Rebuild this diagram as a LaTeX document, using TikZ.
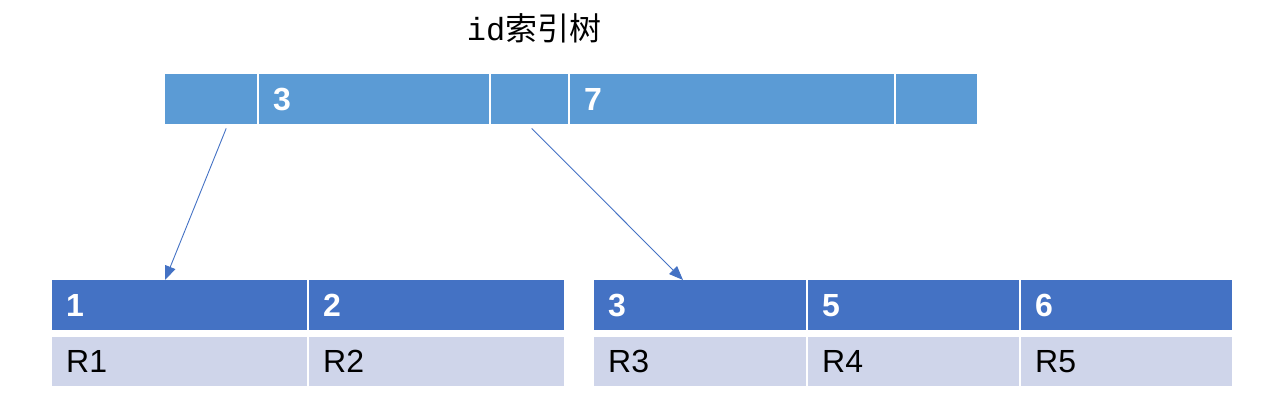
\documentclass[tikz,border=0pt]{standalone}
\usepackage{fontspec}
\setsansfont{Liberation Sans}
\newfontfamily\cjk{Noto Sans CJK SC}
\newfontfamily\idmono{Liberation Mono}
\usepackage{tikz}
\usetikzlibrary{arrows.meta}

\definecolor{barblue}{HTML}{5B9BD5}
\definecolor{headblue}{HTML}{4472C4}
\definecolor{rowgrey}{HTML}{CFD5EA}

\tikzset{
  cell/.style={rectangle, anchor=north west, inner xsep=14pt, inner ysep=0pt,
    align=left, font=\sffamily\fontsize{32}{36}\selectfont},
  topcell/.style={cell, fill=barblue, text=white, minimum height=50pt, font=\sffamily\bfseries\fontsize{32}{36}\selectfont},
  headcell/.style={cell, fill=headblue, text=white, minimum height=50pt, font=\sffamily\bfseries\fontsize{32}{36}\selectfont},
  rowcell/.style={cell, fill=rowgrey, text=black, minimum height=49pt},
  link/.style={draw=headblue, line width=0.9pt, -{Triangle[length=14pt,width=11pt]}}
}

\begin{document}
\begin{tikzpicture}[x=1pt,y=-1pt]
 \useasboundingbox (0,0) rectangle (1263,413);
 \draw (534,28) node (title) {\fontsize{32}{36}\selectfont{\idmono id}{\cjk 索引树}};

% index node
  \draw (165,74) node[topcell, text width=64pt] (b0) {};
  \draw (259,74) node[topcell, text width=202pt] (b1) {3};
  \draw (491,74) node[topcell, text width=49pt] (b2) {};
  \draw (570,74) node[topcell, text width=296pt] (b3) {7};
  \draw (896,74) node[topcell, text width=53pt] (b4) {};

% left leaf
    \draw (52,280) node[headcell, text width=227pt] (l1) {1};
    \draw (309,280) node[headcell, text width=227pt] (l2) {2};
    \draw (52,337) node[rowcell, text width=227pt] (lr1) {R1};
    \draw (309,337) node[rowcell, text width=227pt] (lr2) {R2};

% right leaf
    \draw (594,280) node[headcell, text width=184pt] (r1) {3};
    \draw (808,280) node[headcell, text width=183pt] (r2) {5};
    \draw (1021,280) node[headcell, text width=183pt] (r3) {6};
    \draw (594,337) node[rowcell, text width=184pt] (rr1) {R3};
    \draw (808,337) node[rowcell, text width=183pt] (rr2) {R4};
    \draw (1021,337) node[rowcell, text width=183pt] (rr3) {R5};

     \draw[link] ([shift={(15pt,-4pt)}]b0.south) -- ([xshift=113pt]l1.north west);
     \draw[link] ([shift={(2pt,-4pt)}]b2.south) -- ([xshift=89pt]r1.north west);

\end{tikzpicture}
\end{document}
